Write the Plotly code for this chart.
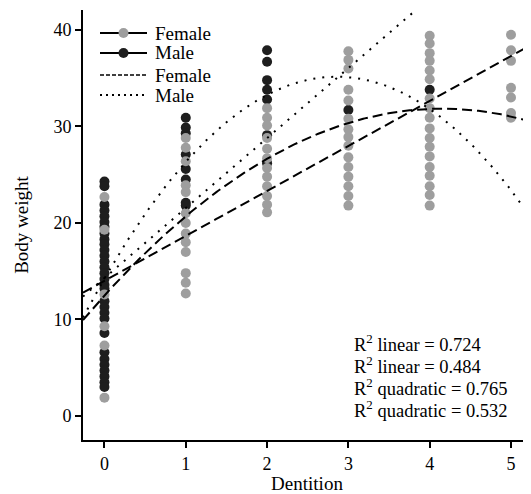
import numpy as np
import plotly.graph_objects as go

# ---- data ----
female_x = ([0]*6 + [1]*13 + [2]*12 + [3]*15 + [4]*18 + [5]*7)
female_y = ([22.7, 19.3, 12.6, 9.3, 7.3, 1.9] +
            [28.8, 27.8, 26.4, 23.9, 23.2, 21.0, 20.0, 18.9, 18.0, 17.0, 14.8, 13.8, 12.7] +
            [31.9, 30.9, 30.1, 28.8, 27.7, 26.7, 25.7, 24.8, 23.8, 22.8, 21.9, 21.1] +
            [37.8, 36.9, 36.0, 33.8, 32.7, 30.8, 29.7, 28.9, 28.0, 26.8, 25.8, 24.8, 23.8, 22.8, 21.8] +
            [39.4, 38.6, 37.6, 36.8, 35.8, 34.9, 32.9, 31.9, 30.9, 29.8, 28.8, 27.9, 26.9, 25.8, 24.9, 23.8, 22.9, 21.8] +
            [39.5, 37.9, 36.8, 34.0, 33.0, 31.4, 30.9])

male_x = ([0]*30 + [1]*8 + [2]*7 + [3]*1 + [4]*1)
male_y = ([24.3, 23.8, 21.9, 21.3, 20.7, 20.1, 19.6, 18.9, 18.3, 17.8, 17.2, 16.6, 16.0, 15.4,
           14.8, 14.2, 13.6, 13.2, 11.9, 11.3, 10.7, 10.1, 8.6, 6.6, 5.9, 5.3, 4.7, 4.1, 3.5, 3.0] +
          [30.9, 29.9, 29.3, 27.1, 25.6, 24.5, 22.1, 21.8] +
          [37.9, 36.7, 34.8, 33.8, 32.8, 29.1, 26.2] +
          [31.7] +
          [33.8])

# fit coefficients (intercept, slope, quadratic)
female_linear = [14.0, 4.66]
male_linear = [14.3, 7.25]
female_quadratic = [12.49, 9.33, -1.124]
male_quadratic = [14.25, 14.64, -2.562]

r2_labels = ["R<sup>2</sup> linear = 0.724", "R<sup>2</sup> linear = 0.484",
             "R<sup>2</sup> quadratic = 0.765", "R<sup>2</sup> quadratic = 0.532"]

legend_labels = ["Female", "Male", "Female", "Male"]

x_range = [-0.264, 5.246]
y_range = [-2.49, 42.07]

GREY = "rgb(158,158,158)"
BLACK = "rgb(30,30,30)"
FONT = "Liberation Serif"

xs = np.linspace(x_range[0], x_range[1], 300)

fig = go.Figure()

fig.add_trace(go.Scatter(x=male_x, y=male_y, mode="markers", name="Male", showlegend=False,
                         marker=dict(color=BLACK, size=10)))
fig.add_trace(go.Scatter(x=female_x, y=female_y, mode="markers", name="Female", showlegend=False,
                         marker=dict(color=GREY, size=10)))

def poly(c, x):
    return sum(ci * x**i for i, ci in enumerate(c))

FDASH = "10px,5px"
MDOT = "2px,7px"
fig.add_trace(go.Scatter(x=xs, y=poly(female_linear, xs), mode="lines", showlegend=False,
                         line=dict(color="black", width=2, dash=FDASH)))
fig.add_trace(go.Scatter(x=xs, y=poly(female_quadratic, xs), mode="lines", showlegend=False,
                         line=dict(color="black", width=2, dash=FDASH)))
fig.add_trace(go.Scatter(x=xs, y=poly(male_linear, xs), mode="lines", showlegend=False,
                         line=dict(color="black", width=2, dash=MDOT)))
fig.add_trace(go.Scatter(x=xs, y=poly(male_quadratic, xs), mode="lines", showlegend=False,
                         line=dict(color="black", width=2, dash=MDOT)))

# ---- hand-built legend (paper coordinates of the plot area) ----
PW, PH = 448.0, 430.0          # plot area size in px
def px_x(p):                    # page px -> paper x (plot area starts at page x=83)
    return (p - 83) / PW
def px_y(p):                    # page px -> paper y (plot area starts at page y=10)
    return 1 - (p - 10) / PH

leg_rows = [33, 53, 75, 95]
leg_dash = ["solid", "solid", "4px,2px", "2px,4px"]
leg_width = [2, 2, 1.5, 2]
leg_marker = [GREY, BLACK, None, None]
for lab, ry, dsh, lw, mc in zip(legend_labels, leg_rows, leg_dash, leg_width, leg_marker):
    fig.add_shape(type="line", xref="paper", yref="paper",
                  x0=px_x(100), x1=px_x(147), y0=px_y(ry), y1=px_y(ry),
                  line=dict(color="black", width=lw, dash=dsh))
    if mc is not None:
        fig.add_shape(type="circle", xref="paper", yref="paper",
                      xsizemode="pixel", ysizemode="pixel",
                      xanchor=px_x(123.5), yanchor=px_y(ry),
                      x0=-5, x1=5, y0=-5, y1=5,
                      fillcolor=mc, line=dict(color=mc, width=0))
    fig.add_annotation(xref="paper", yref="paper", x=px_x(153), y=px_y(ry), text=lab,
                       showarrow=False, xanchor="left", yanchor="middle",
                       font=dict(family=FONT, size=19, color="black"))

ann_y = [7.56, 5.28, 3.0, 0.73]
for t, yv in zip(r2_labels, ann_y):
    fig.add_annotation(x=3.04, y=yv, text=t, showarrow=False, xanchor="left",
                       yanchor="middle", font=dict(family=FONT, size=18.5, color="black"))

# page has an 8px body margin, so the figure is drawn 8px in from the window corner
fig.update_layout(
    width=523, height=486,
    margin=dict(l=75, r=0, t=2, b=54),
    plot_bgcolor="white", paper_bgcolor="white",
    font=dict(family=FONT, size=18, color="black"),
    showlegend=False,
    xaxis=dict(range=x_range, tickvals=[0, 1, 2, 3, 4, 5], showline=True, linecolor="black",
               linewidth=2, ticks="outside", ticklen=6, tickwidth=2, tickcolor="black",
               tickfont=dict(size=18), automargin=False,
               showgrid=False, zeroline=False,
               title=dict(text="Dentition", standoff=2, font=dict(size=19))),
    yaxis=dict(range=y_range, tickvals=[0, 10, 20, 30, 40], showline=True, linecolor="black",
               linewidth=2, ticks="outside", ticklen=6, tickwidth=2, tickcolor="black",
               tickfont=dict(size=18), automargin=False,
               showgrid=False, zeroline=False,
               title=dict(text="Body weight", standoff=20, font=dict(size=19))),
)

fig.write_html("out.html")
